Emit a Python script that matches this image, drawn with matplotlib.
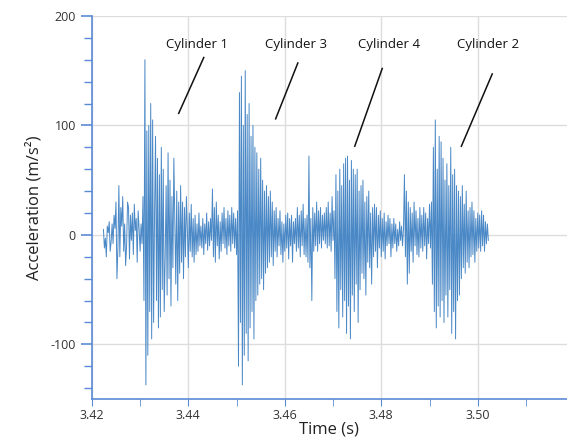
import numpy as np
import matplotlib.pyplot as plt
from matplotlib.ticker import MultipleLocator

t_start = 3.4224
dt = 0.0002
accel = [
    5, -12, -3, -20, 8, 2, 12, -15, -6, 10,
    -8, 18, 6, 30, -40, -12, 45, -20, 25, 8,
    35, -15, 10, -28, -10, 30, 25, -22, 18, -5,
    20, -18, 28, 4, 15, -25, 22, 5, -15, 10,
    -8, 35, -60, 160, -137, 95, -110, 100, -70, 120,
    -95, 105, -80, 20, 90, -60, 70, -85, 55, -75,
    80, -50, 60, -70, -20, 45, -55, 75, -40, 50,
    -65, 35, -30, 70, 10, -45, 40, -60, 30, -35,
    45, -25, 30, -40, 25, -20, 35, 5, -30, 20,
    -15, 28, -20, 15, -25, 18, -18, 10,
    -15, 20, -10, 8, -12, 15, -18, 10, -8,
    20, -14, 12, -10, 15, -5, 42, -20, 25, -25,
    30, -10, 18, -22, 12, -15, 20, -8, 25,
    -12, 15, -18, 22, -10, 18, -15, 25,
    -8, 20, -12, 15, -18, 22, -120, 130, -80, 145,
    -137, 100, -110, 150, -90, 110, -115, 120, -85, 90,
    -70, 100, -95, 80, -60, 75, -55, 60, -45, 70,
    -40, 50, -50, 40, -35, 45, -30, 35, -25, 40,
    -20, 30, -28, 22, -15, 25, -20, 15, -10, 22,
    -18, 12, -25, 10, -15, 18, -12, 20, -22, 15,
    -10, 18, -25, 12, -8, 15, -15, 25, -12, 18,
    -20, 22, -10, 28, -18, 15, -20, 18, -25, 72,
    -30, 15, -60, 25, -15, 20, -10, 30, -15, 22,
    -8, 25, -12, 18, -5, 20, -8, 25, -12, 30,
    -10, 20, -15, 35, -5, 22, -40, 55, -70, 40,
    -85, 60, -50, 45, -75, 65, -60, 70, -90, 72,
    -65, 50, -95, 68, -55, 60, -70, 55, -45, 60,
    -80, 40, -50, 45, -35, 50, -40, 30, -55, 35,
    -25, 40, -30, 20, -45, 25, -20, 28, -15, 25,
    -30, 18, -12, 22, -20, 15, -15, 20, -22, 12,
    -10, 18, -8, 15, -20, 10, -12, 15, -8, 10,
    -15, 5, -10, 12, -5, 8, -10, 5, 55, -20,
    40, -45, 30, -35, 25, -15, 20, -25, 30, -10,
    22, -18, 15, -20, 25, -12, 18, -15, 25, -10,
    20, -22, 15, -8, 28, -12, 30, -45, 80, -70,
    105, -85, 60, -65, 90, -75, 85, -60, 70, -80,
    50, -55, 65, -75, 45, -50, 80, -90, 55, -70,
    60, -95, 45, -60, 40, -55, 35, -40, 45, -30,
    28, -35, 40, -25, 22, -30, 25, -20, 30, -18,
    22, -25, 15, -15, 20, -12, 18, -15, 22, -10,
    18, -15, 12, -8, 10, -5,
]
time = t_start + dt * np.arange(len(accel))

# annotation labels: text position and pointer line (time, accel)
labels = ['Cylinder 1', 'Cylinder 3', 'Cylinder 4', 'Cylinder 2']
label_xy = [(3.4419, 174), (3.4624, 174), (3.4817, 174), (3.5022, 174)]
pointer_start = [(3.4432, 162), (3.4627, 157), (3.4802, 152), (3.5030, 147)]
pointer_end = [(3.4380, 111), (3.4581, 106), (3.4745, 81), (3.4966, 81)]

axis_blue = '#5b8bd6'
plt.rcParams['font.family'] = ['Open Sans', 'DejaVu Sans']

fig = plt.figure(figsize=(5.67, 4.42), dpi=100)
ax = fig.add_axes([0.162, 0.097, 0.838, 0.867])

ax.plot(time, accel, color='#4a88c6', lw=0.7)

for lab, (tx, ty), (x0, y0), (x1, y1) in zip(labels, label_xy, pointer_start, pointer_end):
    ax.text(tx, ty, lab, ha='center', va='center', fontsize=9.5, color='#111111')
    ax.plot([x0, x1], [y0, y1], color='#111111', lw=1.1)

ax.set_xlim(3.42, 3.5185)
ax.set_ylim(-150, 200)
ax.xaxis.set_major_locator(MultipleLocator(0.02))
ax.xaxis.set_minor_locator(MultipleLocator(0.01))
ax.yaxis.set_major_locator(MultipleLocator(100))
ax.yaxis.set_minor_locator(MultipleLocator(20))
ax.set_xticks([3.42, 3.44, 3.46, 3.48, 3.50])
ax.set_xticklabels(['3.42', '3.44', '3.46', '3.48', '3.50'])
ax.set_yticks([-100, 0, 100, 200])
ax.set_yticklabels(['-100', '0', '100', '200'])

ax.grid(True, which='major', color='#dddddd', lw=1.0)
ax.set_axisbelow(True)
for s in ['top', 'right']:
    ax.spines[s].set_visible(False)
for s in ['left', 'bottom']:
    ax.spines[s].set_color(axis_blue)
    ax.spines[s].set_linewidth(1.2)
ax.tick_params(which='both', color=axis_blue, labelsize=9, labelcolor='#333333')
ax.tick_params(axis='x', which='both', length=5, pad=2)
ax.tick_params(axis='y', which='major', length=8, width=1.2)
ax.tick_params(axis='y', which='minor', length=6, width=1.0)

ax.set_xlabel('Time (s)', fontsize=12, color='#222222', labelpad=0)
ax.set_ylabel('Acceleration (m/s²)', fontsize=12, color='#222222', labelpad=6)

fig.savefig('out.png', dpi=100)
